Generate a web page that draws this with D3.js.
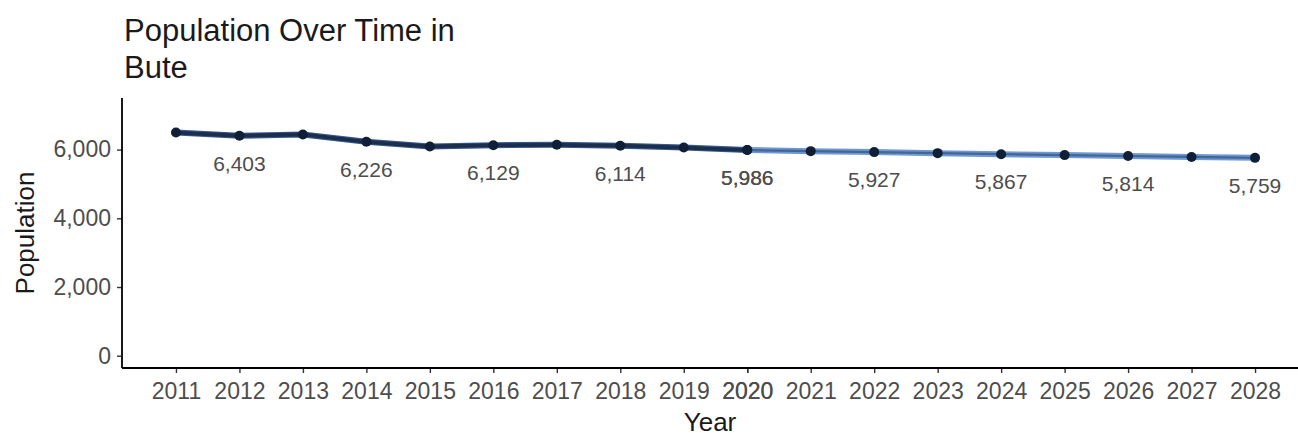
<!DOCTYPE html>
<html><head><meta charset="utf-8">
<script src="https://cdn.jsdelivr.net/npm/d3@7"></script>
<style>
body{margin:0;background:#fff;}
svg{display:block;font-family:"Liberation Sans",Arial,Helvetica,sans-serif;}
</style></head>
<body>
<svg id="chart" width="1298" height="433"></svg>
<script>
const histYears = [2011,2012,2013,2014,2015,2016,2017,2018,2019,2020];
const histValues = [6495,6403,6440,6226,6090,6129,6140,6114,6060,5986];
const projYears = [2020,2021,2022,2023,2024,2025,2026,2027,2028];
const projValues = [5986,5955,5927,5897,5867,5840,5814,5787,5759];
const labelYears = [2012,2014,2016,2018,2020,2022,2024,2026,2028];
const xTicks = [2011,2012,2013,2014,2015,2016,2017,2018,2019,2020,2020,2021,2022,2023,2024,2025,2026,2027,2028];
const yTicks = [0,2000,4000,6000];

(function(){
const svg = d3.select("#chart");
const mLeft = 122, mRight = 1309, mTop = 98, mBottom = 368;

const allVals = histValues.concat(projValues);
const yMax = d3.max(allVals) * 1.1;
const yPad = yMax * 0.05;
const y = d3.scaleLinear().domain([-yPad, yMax + yPad]).range([mBottom, mTop]);
const xPad = (2028 - 2011) * 0.05;
const x = d3.scaleLinear().domain([2011 - xPad, 2028 + xPad]).range([mLeft, mRight]);

// axes
const yAxis = d3.axisLeft(y).tickValues(yTicks).tickFormat(d3.format(",")).tickSize(5).tickPadding(6);
const gy = svg.append("g").attr("transform", `translate(${mLeft},0)`).call(yAxis);
gy.select(".domain").remove();
gy.selectAll(".tick line").attr("stroke", "#333").attr("stroke-width", 1.4);
gy.selectAll(".tick text").attr("fill", "#4d4d4d").attr("font-size", 23).attr("font-family", "Liberation Sans, Arial, sans-serif");

const xAxis = d3.axisBottom(x).tickValues(xTicks).tickFormat(d3.format("d")).tickSize(5).tickPadding(10);
const gx = svg.append("g").attr("transform", `translate(0,${mBottom})`).call(xAxis);
gx.select(".domain").remove();
gx.selectAll(".tick line").attr("stroke", "#333").attr("stroke-width", 1.4);
gx.selectAll(".tick text").attr("fill", "#4d4d4d").attr("font-size", 23).attr("font-family", "Liberation Sans, Arial, sans-serif");

svg.append("line").attr("x1", mLeft).attr("x2", 1298).attr("y1", mBottom).attr("y2", mBottom)
  .attr("stroke", "#000").attr("stroke-width", 1.8);
svg.append("line").attr("x1", mLeft).attr("x2", mLeft).attr("y1", mTop).attr("y2", mBottom)
  .attr("stroke", "#000").attr("stroke-width", 1.8);

// lines
const hist = histYears.map((d,i)=>({year:d, value:histValues[i]}));
const proj = projYears.map((d,i)=>({year:d, value:projValues[i]}));
const line = d3.line().x(d=>x(d.year)).y(d=>y(d.value));

svg.append("path").datum(proj).attr("d", line).attr("fill","none")
  .attr("stroke","#6b98d8").attr("stroke-width",6);
svg.append("path").datum(proj).attr("d", line).attr("fill","none")
  .attr("stroke","#48658e").attr("stroke-width",2.2);
svg.append("path").datum(hist).attr("d", line).attr("fill","none")
  .attr("stroke","#35598e").attr("stroke-width",6);
svg.append("path").datum(hist).attr("d", line).attr("fill","none")
  .attr("stroke","#1c2e4c").attr("stroke-width",3.8);

// points
const pts = hist.concat(proj);
svg.append("g").selectAll("circle").data(pts).join("circle")
  .attr("cx", d=>x(d.year)).attr("cy", d=>y(d.value)).attr("r", 5)
  .attr("fill", "#0f1f38");

// labels
const fmt = d3.format(",");
svg.append("g").selectAll("text").data(pts.filter(d=>labelYears.includes(d.year))).join("text")
  .attr("x", d=>x(d.year)).attr("y", d=>y(d.value)+35)
  .attr("text-anchor","middle").attr("font-size",21).attr("fill","#4d4d4d")
  .text(d=>fmt(d.value));

// titles
svg.append("text").attr("x",124).attr("y",41).attr("font-size",31).attr("fill","#1a1a1a").text("Population Over Time in");
svg.append("text").attr("x",124).attr("y",78).attr("font-size",31).attr("fill","#1a1a1a").text("Bute");
svg.append("text").attr("x",(mLeft+1298)/2).attr("y",431).attr("text-anchor","middle").attr("font-size",26).attr("fill","#1a1a1a").text("Year");
svg.append("text").attr("transform",`translate(34,${(mTop+mBottom)/2}) rotate(-90)`).attr("text-anchor","middle").attr("font-size",26).attr("fill","#1a1a1a").text("Population");
})();
</script>
</body></html>
